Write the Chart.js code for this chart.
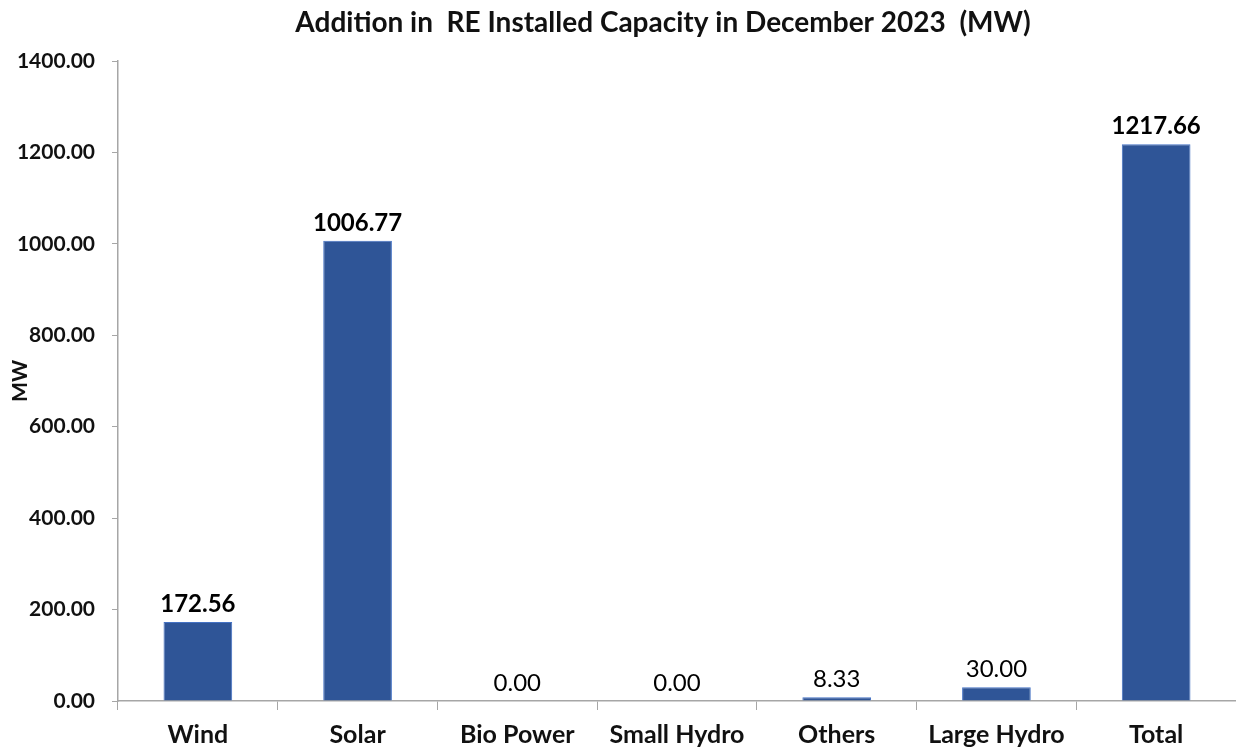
<!DOCTYPE html>
<html>
<head>
<meta charset="utf-8">
<script src="https://cdn.jsdelivr.net/npm/chart.js@4.4.0/dist/chart.umd.min.js"></script>
<style>
  html, body { margin: 0; padding: 0; background: #fff; }
  #wrap { width: 1236px; height: 751px; position: relative; }
</style>
</head>
<body>
<div id="wrap"><canvas id="reChart"></canvas></div>
<script>
const chartTitle = "Addition in  RE Installed Capacity in December 2023  (MW)";
const categories = ["Wind", "Solar", "Bio Power", "Small Hydro", "Others", "Large Hydro", "Total"];
const capacityMW = [172.56, 1006.77, 0.00, 0.00, 8.33, 30.00, 1217.66];
const yTicks = [0, 200, 400, 600, 800, 1000, 1200, 1400];

const FONT = "Lato, 'Liberation Sans', sans-serif";
const AXIS_GREY = "#a6a6a6";

// title sits over the plot area rather than the whole canvas
const titleDraw = {
  id: "titleDraw",
  afterDraw(chart) {
    const ctx = chart.ctx;
    const area = chart.chartArea;
    ctx.save();
    ctx.fillStyle = "#111";
    ctx.font = "bold 28px " + FONT;
    ctx.textAlign = "center";
    ctx.textBaseline = "alphabetic";
    ctx.fillText(chartTitle, (area.left + area.right) / 2 - 14, 32);
    ctx.restore();
  }
};

// value labels above the bars
const barLabels = {
  id: "barLabels",
  afterDatasetsDraw(chart) {
    const ctx = chart.ctx;
    const meta = chart.getDatasetMeta(0);
    ctx.save();
    ctx.fillStyle = "#000";
    ctx.textAlign = "center";
    ctx.textBaseline = "alphabetic";
    meta.data.forEach((bar, i) => {
      const v = capacityMW[i];
      ctx.font = (v >= 100 ? "bold " : "") + "24px " + FONT;
      ctx.fillText(v.toFixed(2), bar.x, bar.y - 10);
    });
    ctx.restore();
  }
};

new Chart(document.getElementById("reChart"), {
  type: "bar",
  data: {
    labels: categories,
    datasets: [{
      data: capacityMW,
      backgroundColor: "#2F5597",
      borderColor: "#4472C4",
      borderWidth: 1,
      categoryPercentage: 1,
      barPercentage: 0.43
    }]
  },
  options: {
    responsive: true,
    maintainAspectRatio: false,
    animation: false,
    layout: { padding: { left: 8, right: 0, top: 61, bottom: 0 } },
    plugins: {
      legend: { display: false },
      tooltip: { enabled: false },
      title: { display: false }
    },
    scales: {
      x: {
        grid: { display: true, offset: true, drawOnChartArea: false, tickLength: 9, color: AXIS_GREY },
        border: { color: AXIS_GREY, width: 1.5 },
        ticks: { color: "#111", font: { family: FONT, size: 25, weight: "bold" }, padding: 10 },
        afterFit(scale) { scale.height = 50; }
      },
      y: {
        min: 0,
        max: 1400,
        afterBuildTicks(scale) { scale.ticks = yTicks.map(v => ({ value: v })); },
        grid: { drawOnChartArea: false, tickLength: 6, color: AXIS_GREY },
        border: { color: AXIS_GREY, width: 1.5 },
        ticks: {
          color: "#111",
          font: { family: FONT, size: 21, weight: "bold" },
          padding: 17,
          callback: v => Number(v).toFixed(2)
        },
        title: {
          display: true,
          text: "MW",
          color: "#111",
          font: { family: FONT, size: 21, weight: "bold" },
          padding: 0
        },
        afterFit(scale) { scale.width = 110; }
      }
    }
  },
  plugins: [barLabels, titleDraw]
});
</script>
</body>
</html>
